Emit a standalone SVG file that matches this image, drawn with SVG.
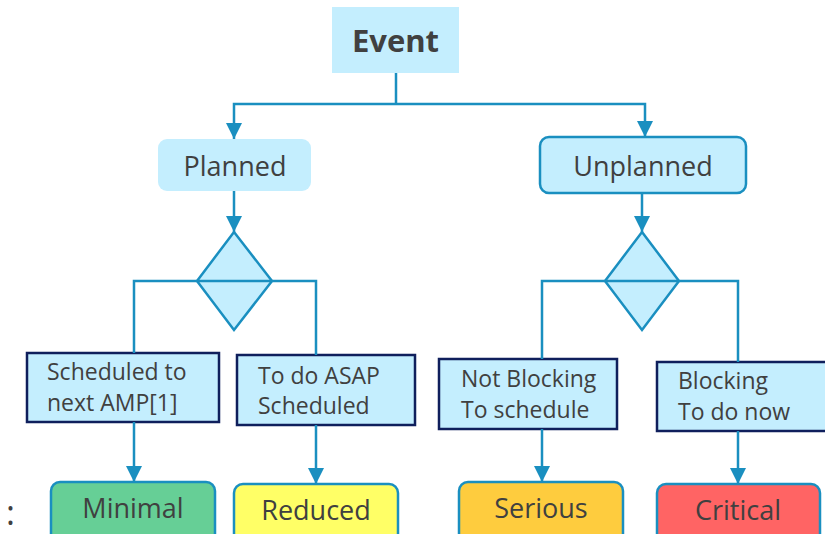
<svg xmlns="http://www.w3.org/2000/svg" width="825" height="534" viewBox="0 0 825 534">
  <defs>
    <style>
      .lbl { font-family: "Open Sans", "Liberation Sans", sans-serif; fill: #404040; }
      .title { font-size: 31px; font-weight: bold; text-anchor: middle; }
      .phase { font-size: 27px; text-anchor: middle; }
      .case { font-size: 23px; }
      .level { font-size: 27px; text-anchor: middle; }
      .light { fill: #C4EEFE; }
      .outlined { stroke: #1A8FC0; stroke-width: 2.5; }
      .decision { fill: #C4EEFE; stroke: #1A8FC0; stroke-width: 2.5; stroke-linejoin: miter; }
      .casebox { fill: #C4EEFE; stroke: #0F1F5C; stroke-width: 2.5; }
      .wire { fill: none; stroke: #1A8FC0; stroke-width: 2.5; }
      .wire-arrow { fill: none; stroke: #1A8FC0; stroke-width: 2.5; marker-end: url(#arrow); }
    </style>
    <marker id="arrow" markerUnits="userSpaceOnUse" markerWidth="16" markerHeight="16" refX="16" refY="8" orient="auto">
      <path d="M0,0 L16,8 L0,16 z" fill="#1A8FC0"/>
    </marker>
  </defs>

  <rect width="825" height="534" fill="#FFFFFF"/>

  <!-- root -->
  <g id="event">
    <rect class="light" x="332" y="7" width="127" height="66"/>
    <text class="lbl title" x="395.5" y="52">Event</text>
  </g>

  <!-- first level -->
  <g id="planned">
    <rect class="light" x="158" y="139" width="153" height="52" rx="9"/>
    <text class="lbl phase" x="235" y="176">Planned</text>
  </g>
  <g id="unplanned">
    <rect class="light outlined" x="540" y="137" width="206" height="56" rx="9"/>
    <text class="lbl phase" x="643" y="176">Unplanned</text>
  </g>

  <!-- decisions -->
  <g id="decision-planned">
    <polygon class="decision" points="234,232 272,281 234,330 197,281"/>
  </g>
  <g id="decision-unplanned">
    <polygon class="decision" points="642,232 679,281 642,330 605,281"/>
  </g>

  <!-- cases -->
  <g id="case-next-amp">
    <rect class="casebox" x="27" y="353" width="192" height="69"/>
    <text class="lbl case" x="47" y="380">Scheduled to</text>
    <text class="lbl case" x="47" y="411">next AMP[1]</text>
  </g>
  <g id="case-asap">
    <rect class="casebox" x="237" y="355" width="178" height="70"/>
    <text class="lbl case" x="258" y="384">To do ASAP</text>
    <text class="lbl case" x="258" y="414">Scheduled</text>
  </g>
  <g id="case-not-blocking">
    <rect class="casebox" x="439" y="359" width="178" height="70"/>
    <text class="lbl case" x="461" y="387">Not Blocking</text>
    <text class="lbl case" x="461" y="418">To schedule</text>
  </g>
  <g id="case-blocking">
    <rect class="casebox" x="657" y="362" width="175" height="69"/>
    <text class="lbl case" x="678" y="389">Blocking</text>
    <text class="lbl case" x="678" y="420">To do now</text>
  </g>

  <!-- severity levels -->
  <g id="level-minimal">
    <rect class="outlined" fill="#66CF96" x="51" y="482" width="164" height="62" rx="9"/>
    <text class="lbl level" x="133" y="518">Minimal</text>
  </g>
  <g id="level-reduced">
    <rect class="outlined" fill="#FFFF66" x="234" y="484" width="164" height="62" rx="9"/>
    <text class="lbl level" x="316" y="520">Reduced</text>
  </g>
  <g id="level-serious">
    <rect class="outlined" fill="#FECC3E" x="459" y="482" width="164" height="62" rx="9"/>
    <text class="lbl level" x="541" y="518">Serious</text>
  </g>
  <g id="level-critical">
    <rect class="outlined" fill="#FF6464" x="657" y="484" width="163" height="62" rx="9"/>
    <text class="lbl level" x="738" y="520">Critical</text>
  </g>

  <text class="lbl" x="6" y="525" font-size="34">:</text>

  <!-- connectors -->
  <g id="connectors">
    <path class="wire" d="M396,73 V104"/>
    <path class="wire-arrow" d="M396,104 H234 V139"/>
    <path class="wire-arrow" d="M396,104 H645 V137"/>
    <path class="wire-arrow" d="M234,191 V232"/>
    <path class="wire-arrow" d="M642,193 V232"/>
    <path class="wire" d="M134,353 V281 H316 V355"/>
    <path class="wire" d="M542,359 V281 H738 V362"/>
    <path class="wire-arrow" d="M134,422 V482"/>
    <path class="wire-arrow" d="M316,425 V484"/>
    <path class="wire-arrow" d="M542,429 V482"/>
    <path class="wire-arrow" d="M738,431 V484"/>
  </g>
</svg>
